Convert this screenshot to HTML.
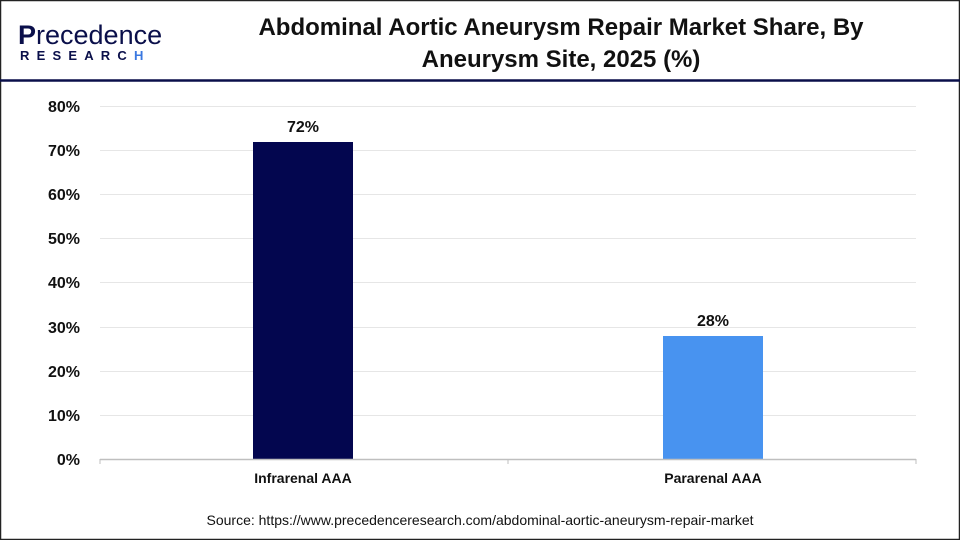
<!DOCTYPE html>
<html><head><style>
body{margin:0;width:960px;height:540px;overflow:hidden;background:#fff;font-family:"Liberation Sans",sans-serif}
</style></head><body>
<svg width="960" height="540" xmlns="http://www.w3.org/2000/svg" font-family="Liberation Sans, sans-serif">
<rect x="0.5" y="0.5" width="959" height="539" fill="#fff" stroke="#222" stroke-width="1.5"/>
<line x1="0" y1="80.5" x2="960" y2="80.5" stroke="#0a0f4a" stroke-width="2.5"/>
<text x="18" y="44" font-size="27" font-weight="bold" fill="#0a0f4a">P<tspan fill="#0a0f4a" font-weight="normal">recedence</tspan></text>
<text x="20" y="60" font-size="13" font-weight="bold" fill="#0a0f4a" letter-spacing="7.2">RESEARC<tspan fill="#3a78e0">H</tspan></text>
<text x="561" y="35" font-size="24" font-weight="bold" fill="#111" text-anchor="middle">Abdominal Aortic Aneurysm Repair Market Share, By</text>
<text x="561" y="67" font-size="24" font-weight="bold" fill="#111" text-anchor="middle">Aneurysm Site, 2025 (%)</text>
<g stroke="#e6e6e6" stroke-width="1">
<line x1="100" y1="106.5" x2="916" y2="106.5"/><line x1="100" y1="150.5" x2="916" y2="150.5"/>
<line x1="100" y1="194.5" x2="916" y2="194.5"/><line x1="100" y1="238.5" x2="916" y2="238.5"/>
<line x1="100" y1="282.5" x2="916" y2="282.5"/><line x1="100" y1="327.5" x2="916" y2="327.5"/>
<line x1="100" y1="371.5" x2="916" y2="371.5"/><line x1="100" y1="415.5" x2="916" y2="415.5"/>
</g>
<g font-size="16" font-weight="bold" fill="#111" text-anchor="end">
<text x="80" y="112">80%</text><text x="80" y="156">70%</text><text x="80" y="200">60%</text>
<text x="80" y="244">50%</text><text x="80" y="288">40%</text><text x="80" y="333">30%</text>
<text x="80" y="377">20%</text><text x="80" y="421">10%</text><text x="80" y="465">0%</text>
</g>
<rect x="253" y="142" width="100" height="317" fill="#03064f"/>
<rect x="663" y="336" width="100" height="123" fill="#4893f0"/>
<line x1="100" y1="459.5" x2="916" y2="459.5" stroke="#bfbfbf" stroke-width="1.5"/>
<g stroke="#bfbfbf"><line x1="100" y1="459" x2="100" y2="464"/><line x1="508" y1="459" x2="508" y2="464"/><line x1="916" y1="459" x2="916" y2="464"/></g>
<g font-size="16" font-weight="bold" fill="#111" text-anchor="middle">
<text x="303" y="132">72%</text><text x="713" y="326">28%</text>
</g>
<g font-size="14" font-weight="bold" fill="#111" text-anchor="middle">
<text x="303" y="483">Infrarenal AAA</text><text x="713" y="483">Pararenal AAA</text>
</g>
<text x="480" y="525" font-size="14" fill="#111" text-anchor="middle">Source: https://www.precedenceresearch.com/abdominal-aortic-aneurysm-repair-market</text>
</svg>
</body></html>
